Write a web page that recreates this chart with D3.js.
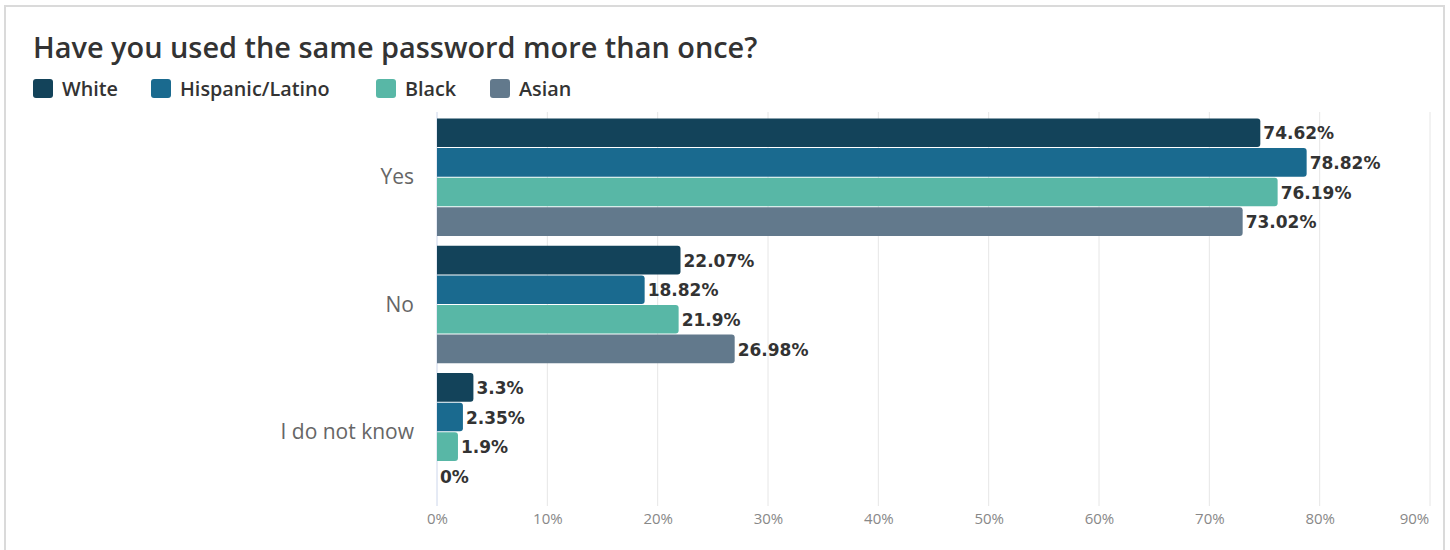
<!DOCTYPE html>
<html>
<head>
<meta charset="utf-8">
<script src="https://cdn.jsdelivr.net/npm/d3@7/dist/d3.min.js"></script>
<style>
  html, body { margin: 0; padding: 0; background: #fff; }
  svg { display: block; }
</style>
</head>
<body>
<svg id="chart" width="1450" height="550"></svg>
<script>
// Survey answers, one row per category
const categories = ["Yes", "No", "I do not know"];
const seriesNames = ["White", "Hispanic/Latino", "Black", "Asian"];
const seriesColors = ["#13435a", "#1a6a8f", "#58b7a6", "#62798c"];
const whiteValues = [74.62, 22.07, 3.3];
const hispanicValues = [78.82, 18.82, 2.35];
const blackValues = [76.19, 21.9, 1.9];
const asianValues = [73.02, 26.98, 0];
const tickValues = [0, 10, 20, 30, 40, 50, 60, 70, 80, 90];
const tickLabels = ["0%", "10%", "20%", "30%", "40%", "50%", "60%", "70%", "80%", "90%"];

const seriesValues = [whiteValues, hispanicValues, blackValues, asianValues];
const rows = [];
categories.forEach((c, ci) => {
  seriesNames.forEach((s, si) => {
    rows.push({ category: c, series: s, si, value: seriesValues[si][ci] });
  });
});

const FONT = "'Open Sans', sans-serif";
const svg = d3.select("#chart");

// outer frame
svg.append("rect")
  .attr("x", 5).attr("y", 6).attr("width", 1439).attr("height", 560)
  .attr("fill", "#fff").attr("stroke", "#dadada").attr("stroke-width", 2);

// title
svg.append("text")
  .attr("x", 33).attr("y", 58)
  .attr("font-family", FONT)
  .attr("font-weight", 600)
  .attr("font-size", 28.9)
  .attr("fill", "#333")
  .text("Have you used the same password more than once?");

// legend
const legendX = [33, 151, 376, 490];
const legend = svg.append("g");
seriesNames.forEach((s, i) => {
  const g = legend.append("g").attr("transform", `translate(${legendX[i]},79)`);
  g.append("rect").attr("width", 20).attr("height", 19).attr("rx", 3)
    .attr("fill", seriesColors[i]);
  g.append("text").attr("x", 29).attr("y", 17)
    .attr("font-family", FONT).attr("font-weight", 600)
    .attr("font-size", 19.8).attr("fill", "#333").text(s);
});

// scales
const x = d3.scaleLinear().domain([0, 90]).range([437, 1430]);
const y = d3.scaleBand().domain(categories).range([114, 496])
  .paddingInner(0.07).paddingOuter(0.035);
const ys = d3.scaleBand().domain(seriesNames).range([0, y.bandwidth()]);

// grid lines
svg.append("g").selectAll("line").data(tickValues).join("line")
  .attr("x1", d => x(d)).attr("x2", d => x(d))
  .attr("y1", 112).attr("y2", 506)
  .attr("stroke", d => d === 0 ? "#ccd6eb" : "#e6e6e6").attr("stroke-width", 1);

// x axis labels
const xAxis = d3.axisBottom(x).tickValues(tickValues)
  .tickFormat((d, i) => tickLabels[i]).tickSize(0).tickPadding(0);
const xg = svg.append("g").attr("transform", "translate(0,506)").call(xAxis);
xg.select(".domain").remove();
xg.selectAll("text")
  .attr("y", 18)
  .attr("dy", 0)
  .attr("font-family", FONT).attr("font-size", 15).attr("fill", "#888")
  .attr("dx", d => d === 90 ? -16 : 0);

// y axis labels
const yAxis = d3.axisLeft(y).tickSize(0).tickPadding(0);
const yg = svg.append("g").attr("transform", "translate(414,0)").call(yAxis);
yg.select(".domain").remove();
yg.selectAll("text")
  .attr("font-family", FONT).attr("font-size", 21).attr("fill", "#666");

// bars with rounded right end
function barPath(x0, x1, top, h, r) {
  const w = x1 - x0;
  const rr = Math.min(r, w / 2, h / 2);
  if (w <= 0) return "";
  return `M${x0},${top}H${x1 - rr}Q${x1},${top} ${x1},${top + rr}` +
    `V${top + h - rr}Q${x1},${top + h} ${x1 - rr},${top + h}H${x0}Z`;
}

const bars = svg.append("g");
bars.selectAll("path").data(rows).join("path")
  .attr("d", d => barPath(x(0), x(d.value), y(d.category) + ys(d.series), ys.bandwidth() - 1, 3))
  .attr("fill", d => seriesColors[d.si]);

// value labels
svg.append("g").selectAll("text").data(rows).join("text")
  .attr("x", d => x(d.value) + 3)
  .attr("y", d => y(d.category) + ys(d.series) + ys.bandwidth() / 2)
  .attr("dy", "0.36em")
  .attr("font-family", "'DejaVu Sans', sans-serif")
  .attr("font-weight", 700)
  .attr("font-size", 17)
  .attr("fill", "#333")
  .text(d => d.value + "%");
</script>
</body>
</html>
